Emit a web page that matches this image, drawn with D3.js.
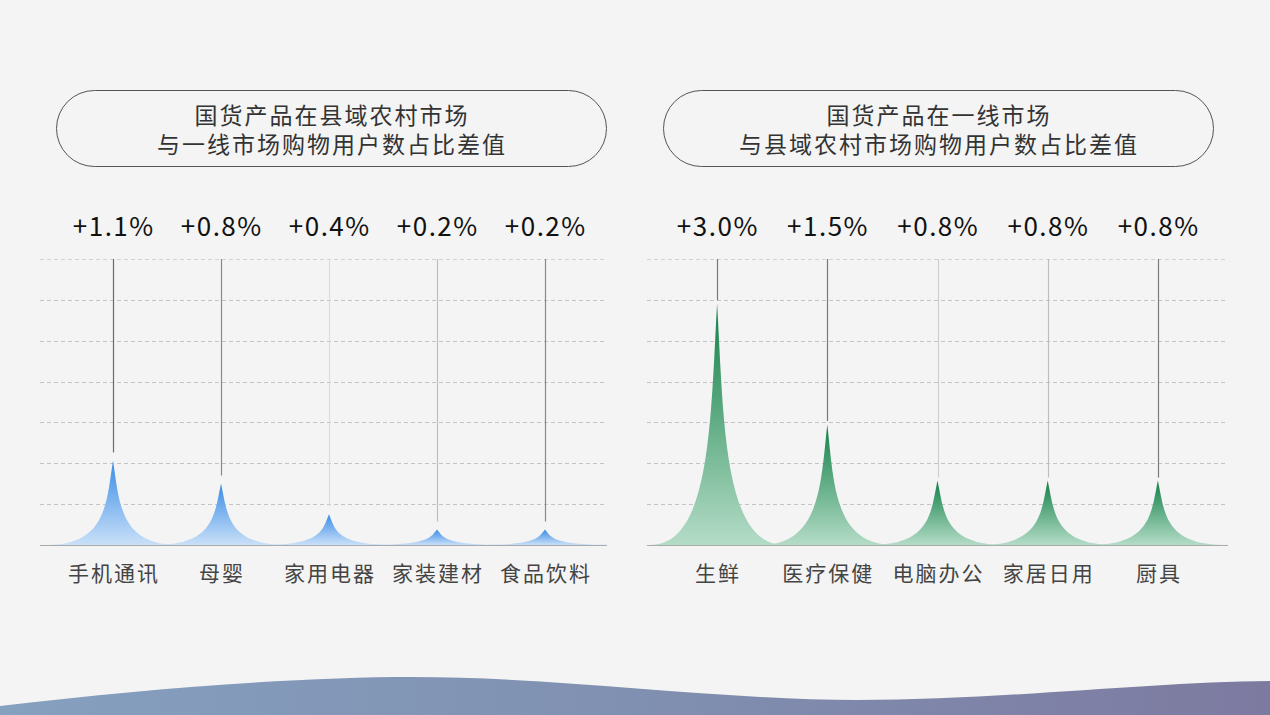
<!DOCTYPE html>
<html><head><meta charset="utf-8">
<script src="https://cdn.jsdelivr.net/npm/d3@7/dist/d3.min.js"></script>
<style>
html,body{margin:0;padding:0;background:#f4f4f4;}
svg{display:block;}
text{font-family:"Noto Sans CJK SC","Noto Sans",sans-serif;}
</style></head>
<body>
<svg id="chart" width="1270" height="715"></svg>
<script>
// ---- data ----
const leftTitle = ["国货产品在县域农村市场", "与一线市场购物用户数占比差值"];
const leftCategories = ["手机通讯", "母婴", "家用电器", "家装建材", "食品饮料"];
const leftValues = [1.1, 0.8, 0.4, 0.2, 0.2];
const leftLineColors = ["#6a6a6a", "#8a8a8a", "#dcdcdc", "#bdbdbd", "#8a8a8a"];

const rightTitle = ["国货产品在一线市场", "与县域农村市场购物用户数占比差值"];
const rightCategories = ["生鲜", "医疗保健", "电脑办公", "家居日用", "厨具"];
const rightValues = [3.0, 1.5, 0.8, 0.8, 0.8];
const rightLineColors = ["#777777", "#777777", "#cfcfcf", "#bdbdbd", "#7a7a7a"];

const fmt = v => "+" + v.toFixed(1) + "%";

const svg = d3.select("#chart");
const defs = svg.append("defs");

// background wave
const waveGrad = defs.append("linearGradient").attr("id","waveGrad").attr("x1","0").attr("x2","1").attr("y1","0").attr("y2","0");
waveGrad.append("stop").attr("offset","0").attr("stop-color","#86a0c0");
waveGrad.append("stop").attr("offset","0.5").attr("stop-color","#8090b0");
waveGrad.append("stop").attr("offset","1").attr("stop-color","#7d7aa0");
svg.append("path")
  .attr("d","M0,706 C150,688 300,677 413,677 C560,677 720,700 858,700 C1000,700 1150,682 1270,681 L1270,715 L0,715 Z")
  .attr("fill","url(#waveGrad)");

function makeGrad(id, top, bottom){
  const g = defs.append("linearGradient").attr("id",id).attr("x1","0").attr("x2","0").attr("y1","0").attr("y2","1");
  g.append("stop").attr("offset","0").attr("stop-color",top);
  g.append("stop").attr("offset","1").attr("stop-color",bottom);
}
makeGrad("blueGrad", "#3a8ce6", "#c9e0f8");
makeGrad("greenGrad", "#138047", "#b4dcc7");

function drawPanel(opt){
  const g = svg.append("g");
  // title pill
  const bx = opt.box[0], by = 90, bw = opt.box[1]-opt.box[0], bh = 76;
  g.append("rect").attr("x",bx+0.5).attr("y",by+0.5).attr("width",bw).attr("height",bh)
    .attr("rx",bh/2).attr("ry",bh/2).attr("fill","none").attr("stroke","#555").attr("stroke-width",1);
  g.selectAll(".title").data(opt.title).join("text")
    .attr("x",bx+bw/2+1).attr("y",(d,i)=>124+i*29)
    .attr("text-anchor","middle").attr("font-size",23).attr("letter-spacing",2).attr("fill","#333").text(d=>d);

  const x = d3.scaleBand().domain(opt.categories).range(opt.xRange).paddingInner(0).paddingOuter(0);
  const y = d3.scaleLinear().domain([0, opt.yMax]).range([545, 259]);

  // grid
  const gridVals = d3.range(1, 8).map(i => opt.yMax * i / 7);
  g.selectAll(".grid").data(gridVals).join("line")
    .attr("x1",opt.gridX[0]).attr("x2",opt.gridX[1])
    .attr("y1",d=>Math.round(y(d))+0.5).attr("y2",d=>Math.round(y(d))+0.5)
    .attr("stroke",(d,i)=> i===6 ? "#d2d2d2" : "#c4c4c4").attr("stroke-width",1).attr("stroke-dasharray","4,3");
  // baseline
  g.append("line").attr("x1",opt.gridX[0]).attr("x2",opt.gridX[1])
    .attr("y1",y(0)+0.5).attr("y2",y(0)+0.5).attr("stroke","#aaa").attr("stroke-width",1.2);

  const cx = d => x(d) + x.bandwidth()/2;
  const data = opt.categories.map((c,i)=>({c, v: opt.values[i], lc: opt.lineColors[i]}));

  // drop lines
  g.selectAll(".drop").data(data).join("line")
    .attr("x1",d=>Math.round(cx(d.c))+0.5).attr("x2",d=>Math.round(cx(d.c))+0.5)
    .attr("y1",y(opt.yMax)).attr("y2",d=>y(d.v)-opt.gap)
    .attr("stroke",d=>d.lc).attr("stroke-width",1.2);

  // spikes
  const W = x.bandwidth()*opt.widthFactor;
  g.selectAll(".spike").data(data).join("path")
    .attr("d", d => {
      const c = cx(d.c), b = y(0), t = y(d.v), h = b - t;
      const l = c - W/2, r = c + W/2;
      return `M${l},${b} L${r},${b} C${c+W*0.05},${b} ${c+W*0.05},${b-h*0.5} ${c},${t} C${c-W*0.05},${b-h*0.5} ${c-W*0.05},${b} ${l},${b} Z`;
    })
    .attr("fill", `url(#${opt.grad})`);

  // value labels
  g.selectAll(".val").data(data).join("text")
    .attr("x",d=>cx(d.c)+0.75).attr("y",236).attr("text-anchor","middle")
    .attr("font-size",26).attr("letter-spacing",1.5).attr("fill","#111").text(d=>fmt(d.v));
  // category labels
  g.selectAll(".cat").data(data).join("text")
    .attr("x",d=>cx(d.c)+1).attr("y",581).attr("text-anchor","middle")
    .attr("font-size",21).attr("letter-spacing",2).attr("fill","#444").text(d=>d.c);
}

drawPanel({title:leftTitle, categories:leftCategories, values:leftValues, lineColors:leftLineColors,
  box:[56,606], xRange:[59,599], gridX:[40,607], yMax:3.72, gap:8, widthFactor:1.22, grad:"blueGrad"});
drawPanel({title:rightTitle, categories:rightCategories, values:rightValues, lineColors:rightLineColors,
  box:[663,1213], xRange:[662,1213], gridX:[647,1228], yMax:3.55, gap:3, widthFactor:1.22, grad:"greenGrad"});
</script>
</body></html>
